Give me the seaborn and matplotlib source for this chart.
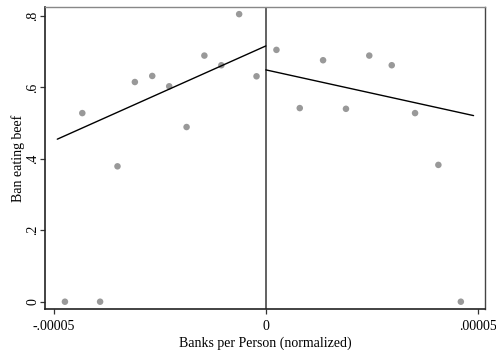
import matplotlib
matplotlib.use("Agg")
import matplotlib.pyplot as plt
import seaborn as sns
import pandas as pd

# Binned means of the outcome on each side of the cutoff
left_x = [-4.74e-5, -4.33e-5, -3.91e-5, -3.50e-5, -3.09e-5, -2.68e-5,
          -2.28e-5, -1.87e-5, -1.45e-5, -1.05e-5, -0.63e-5, -0.22e-5]
left_y = [0.0, 0.528, 0.0, 0.379, 0.615, 0.632,
          0.603, 0.489, 0.689, 0.662, 0.805, 0.631]
right_x = [0.25e-5, 0.80e-5, 1.35e-5, 1.89e-5, 2.44e-5, 2.97e-5,
           3.52e-5, 4.07e-5, 4.60e-5]
right_y = [0.705, 0.542, 0.676, 0.540, 0.689, 0.662,
           0.528, 0.383, 0.0]

# Linear fits on each side
fit_left_x = [-4.92e-5, 0.0]
fit_left_y = [0.455, 0.716]
fit_right_x = [0.0, 4.90e-5]
fit_right_y = [0.649, 0.521]

x_ticks = [-5e-5, 0.0, 5e-5]
x_tick_labels = ["-.00005", "0", ".00005"]
y_ticks = [0.0, 0.2, 0.4, 0.6, 0.8]
y_tick_labels = ["0", ".2", ".4", ".6", ".8"]

sns.set_theme(style="white")
plt.rcParams["font.family"] = ["Liberation Serif", "DejaVu Serif"]

bins = pd.DataFrame({"x": left_x + right_x, "y": left_y + right_y})

fig = plt.figure(figsize=(4.96, 3.5), dpi=100)
ax = fig.add_axes([45 / 496, 1 - 309 / 350, 440 / 496, 302 / 350])

sns.scatterplot(data=bins, x="x", y="y", ax=ax, color="#999999",
                s=22, edgecolor="none", zorder=3)
sns.lineplot(x=fit_left_x, y=fit_left_y, ax=ax, color="black",
             linewidth=1.0, zorder=4)
sns.lineplot(x=fit_right_x, y=fit_right_y, ax=ax, color="black",
             linewidth=1.0, zorder=4)
ax.axvline(0, color="#555555", linewidth=1.3, zorder=2)

ax.set_xlim(-5.21e-5, 5.17e-5)
ax.set_ylim(-0.0204, 0.825)
ax.set_xticks(x_ticks)
ax.set_xticklabels(x_tick_labels)
ax.set_yticks(y_ticks)
ax.set_yticklabels(y_tick_labels, rotation=90, va="center")

ax.tick_params(axis="both", which="major", length=3.6, width=0.9,
               color="#333333", labelsize=10, labelcolor="black",
               direction="out", bottom=True, left=True)
ax.tick_params(axis="x", pad=4.5)
ax.tick_params(axis="y", pad=0.5)

for side in ("left", "bottom"):
    ax.spines[side].set_color("#222222")
    ax.spines[side].set_linewidth(1.2)
ax.spines["right"].set_color("#444444")
ax.spines["right"].set_linewidth(1.0)
ax.spines["top"].set_color("#888888")
ax.spines["top"].set_linewidth(1.0)

ax.set_xlabel("Banks per Person (normalized)", fontsize=10, color="black",
              labelpad=2)
ax.set_ylabel("Ban eating beef", fontsize=10, color="black", labelpad=1)

fig.savefig("out.png", dpi=100, facecolor="white")
